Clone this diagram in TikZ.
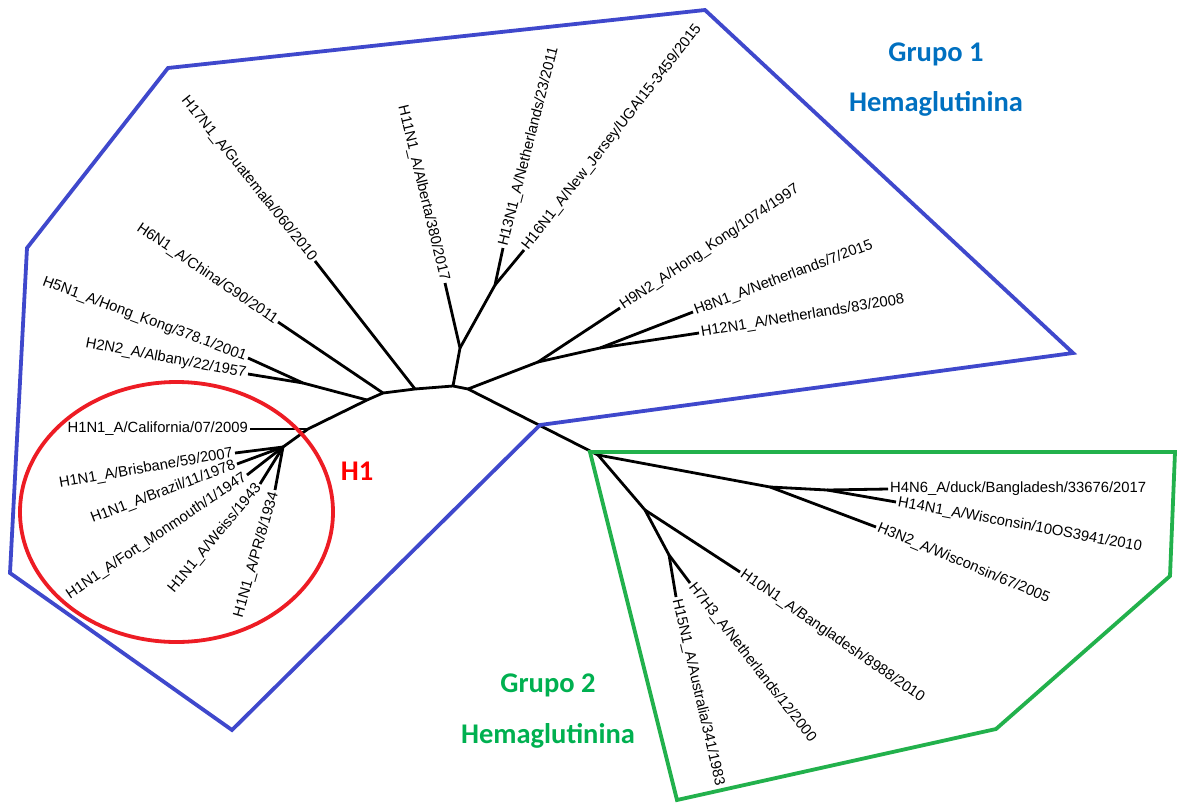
\documentclass[tikz,border=0pt]{standalone}
\usepackage{fontspec}
\setmainfont{Liberation Sans}
\newfontfamily\grpfont{Carlito}
\definecolor{hullblue}{HTML}{3F48CC}
\definecolor{hullgreen}{HTML}{22B14C}
\definecolor{ringred}{HTML}{ED1C24}
\definecolor{grpblue}{HTML}{0070C0}
\definecolor{grpgreen}{HTML}{00B050}
\begin{document}
\begin{tikzpicture}[x=1pt,y=-1pt,
  branch/.style={line width=2.8pt, line join=round},
  leafL/.style={anchor=east, inner sep=2pt, font=\fontsize{14.8}{17}\selectfont},
  leafR/.style={anchor=west, inner sep=2pt, font=\fontsize{14.8}{17}\selectfont},
  grp/.style={anchor=base, inner sep=0pt, font=\grpfont\fontsize{28.5}{34}\selectfont\bfseries},
  hull/.style={line width=3.8pt, line join=miter}]
\useasboundingbox (0,0) rectangle (1177,803);

% backbone of the unrooted tree
\coordinate (b1) at (308,429);
\coordinate (b2) at (367,400);
\coordinate (b3) at (383,393);
\coordinate (b4) at (415,389);
\coordinate (b5) at (453,386);
\coordinate (b6) at (468,389);
\coordinate (g0) at (598,455);
% H1 clade
\coordinate (f1) at (283,447);
\coordinate (tCal) at (250,429);
\coordinate (tBri) at (235,453);
\coordinate (tBra) at (237,464);
\coordinate (tFor) at (247,475);
\coordinate (tWei) at (260,484);
\coordinate (tPR) at (275,490);
% remaining group 1 subtypes
\coordinate (j25) at (303,383);
\coordinate (tH5) at (248,358);
\coordinate (tH2) at (248,374);
\coordinate (tH6) at (278,322);
\coordinate (tH17) at (315,261);
\coordinate (j11) at (460,348);
\coordinate (tH11) at (445,283);
\coordinate (j13) at (495,285);
\coordinate (tH13) at (503,248);
\coordinate (tH16) at (524,250);
\coordinate (j9) at (538,362);
\coordinate (tH9) at (620,308);
\coordinate (j8) at (600,348);
\coordinate (tH8) at (693,312);
\coordinate (tH12) at (699,333);
% group 2 subtypes
\coordinate (jr) at (770,487);
\coordinate (jr2) at (827,490);
\coordinate (tH4) at (888,489);
\coordinate (tH14) at (896,502);
\coordinate (tH3) at (876,527);
\coordinate (jd) at (645,510);
\coordinate (tH10) at (740,572);
\coordinate (jd2) at (669,555);
\coordinate (tH7) at (690,583);
\coordinate (tH15) at (676,597);

% branches
\draw[branch] (f1) -- (b1) -- (b2) -- (b3) -- (b4) -- (b5) -- (b6) -- (g0);
\draw[branch] (tCal) -- (b1);
\foreach \t in {tBri,tBra,tFor,tWei,tPR} \draw[branch] (\t) -- (f1);
\draw[branch] (tH5) -- (j25) -- (b2);
\draw[branch] (tH2) -- (j25);
\draw[branch] (tH6) -- (b3);
\draw[branch] (tH17) -- (b4);
\draw[branch] (b5) -- (j11) -- (tH11);
\draw[branch] (j11) -- (j13) -- (tH13);
\draw[branch] (j13) -- (tH16);
\draw[branch] (b6) -- (j9) -- (tH9);
\draw[branch] (j9) -- (j8) -- (tH8);
\draw[branch] (j8) -- (tH12);
\draw[branch] (g0) -- (jr) -- (tH3);
\draw[branch] (jr) -- (jr2) -- (tH4);
\draw[branch] (jr2) -- (tH14);
\draw[branch] (g0) -- (jd) -- (tH10);
\draw[branch] (jd) -- (jd2) -- (tH7);
\draw[branch] (jd2) -- (tH15);

% leaf labels
\node[leafL, rotate=0] (lCal) at (tCal) {H1N1\_A/California/07/2009};
\node[leafL, rotate=10] (lBri) at (tBri) {H1N1\_A/Brisbane/59/2007};
\node[leafL, rotate=20.8] (lBra) at (tBra) {H1N1\_A/Brazil/11/1978};
\node[leafL, rotate=34] (lFor) at (tFor) {H1N1\_A/Fort\_Monmouth/1/1947};
\node[leafL, rotate=50.3] (lWei) at (tWei) {H1N1\_A/Weiss/1943};
\node[leafL, rotate=74] (lPR) at (tPR) {H1N1\_A/PR/8/1934};
\node[leafL, rotate=-20.5] (lH5) at (tH5) {H5N1\_A/Hong\_Kong/378.1/2001};
\node[leafL, rotate=-10.6] (lH2) at (tH2) {H2N2\_A/Albany/22/1957};
\node[leafL, rotate=-34.2] (lH6) at (tH6) {H6N1\_A/China/G90/2011};
\node[leafL, rotate=-51.2] (lH17) at (tH17) {H17N1\_A/Guatemala/060/2010};
\node[leafL, rotate=-76.4] (lH11) at (tH11) {H11N1\_A/Alberta/380/2017};
\node[leafR, rotate=75.7] (lH13) at (tH13) {H13N1\_A/Netherlands/23/2011};
\node[leafR, rotate=52] (lH16) at (tH16) {H16N1\_A/New\_Jersey/UGAI15-3459/2015};
\node[leafR, rotate=34] (lH9) at (tH9) {H9N2\_A/Hong\_Kong/1074/1997};
\node[leafR, rotate=20.6] (lH8) at (tH8) {H8N1\_A/Netherlands/7/2015};
\node[leafR, rotate=9.2] (lH12) at (tH12) {H12N1\_A/Netherlands/83/2008};
\node[leafR, rotate=0] (lH4) at (tH4) {H4N6\_A/duck/Bangladesh/33676/2017};
\node[leafR, rotate=-10.5] (lH14) at (tH14) {H14N1\_A/Wisconsin/10OS3941/2010};
\node[leafR, rotate=-22.6] (lH3) at (tH3) {H3N2\_A/Wisconsin/67/2005};
\node[leafR, rotate=-34.8] (lH10) at (tH10) {H10N1\_A/Bangladesh/8988/2010};
\node[leafR, rotate=-52] (lH7) at (tH7) {H7H3\_A/Netherlands/12/2000};
\node[leafR, rotate=-77] (lH15) at (tH15) {H15N1\_A/Australia/341/1983};

% group outlines
\draw[hull, hullblue] (168,68) -- (705,10) -- (1073,353) -- (540,425) -- (232,730)
  -- (10,573) -- (27,248) -- cycle;
\draw[hull, hullgreen] (590,452) -- (1175,452) -- (1170,576) -- (996,729) -- (677,800) -- cycle;
\draw[ringred, line width=3.8pt] (176.5,512) ellipse [x radius=156.5pt, y radius=130pt];

% group captions
\node[grp, text=grpblue] (g1a) at (936,61) {Grupo 1};
\node[grp, text=grpblue] (g1b) at (936,111) {Hemaglutinina};
\node[grp, text=grpgreen] (g2a) at (548,692) {Grupo 2};
\node[grp, text=grpgreen] (g2b) at (548,743) {Hemaglutinina};
\node[grp, text=red] (h1) at (357,480) {H1};
\end{tikzpicture}
\end{document}
